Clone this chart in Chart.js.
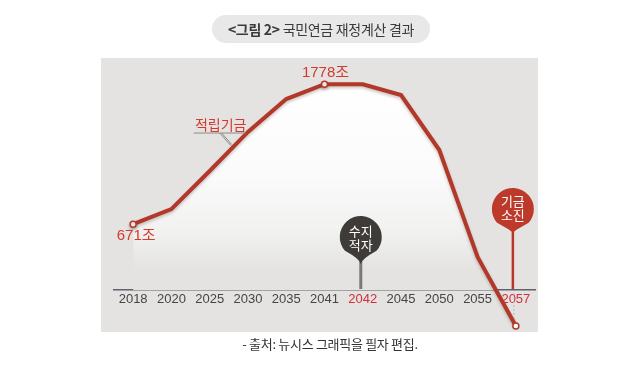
<!DOCTYPE html>
<html><head><meta charset="utf-8">
<script src="https://cdn.jsdelivr.net/npm/chart.js@4/dist/chart.umd.min.js"></script>
<style>
html,body{margin:0;padding:0;background:#fff;}
#wrap{position:relative;width:640px;height:371px;overflow:hidden;}
#c{position:absolute;left:0;top:0;}
.title{position:absolute;left:212px;top:15px;width:218px;height:28px;border-radius:14px;background:#e8e8e8;
  font-family:'Noto Sans CJK KR',sans-serif;font-size:14px;color:#3a3a3a;text-align:center;line-height:28px;letter-spacing:-0.3px;}
.title b{font-weight:700;}
.footer{position:absolute;left:0;width:660px;top:334px;text-align:center;font-family:'Noto Sans CJK KR',sans-serif;font-size:13px;color:#333;letter-spacing:-0.3px;}
</style></head>
<body>
<div id="wrap">
<canvas id="c" width="640" height="371"></canvas>
<div class="title"><b>&lt;그림 2&gt;</b> 국민연금 재정계산 결과</div>
<div class="footer">- 출처: 뉴시스 그래픽을 필자 편집.</div>
</div>
<script>
const years = ['2018','2020','2025','2030','2035','2041','2042','2045','2050','2055','2057'];
const fund = [671, 790, 1091, 1400, 1660, 1778, 1777, 1692, 1257, 411, -134];
const highlightYears = ['2042','2057'];
const markedYears = ['2018','2041','2057'];
const seriesLabel = '적립기금';
const startLabel = '671조';
const peakLabel = '1778조';
const deficitYear = '2042';
const deficitLabel = ['수지','적자'];
const depletionYear = '2057';
const depletionLabel = ['기금','소진'];

const RED = '#b2382a';
const TXT_RED = '#d23a2e';
const KFONT = "'Noto Sans CJK KR', sans-serif";
const NFONT = "'Liberation Sans', 'Noto Sans CJK KR', sans-serif";

function pin(ctx, cx, cy, r, tipY, color) {
  const a = 0.85;
  const p1x = cx - r*Math.sin(a), p1y = cy + r*Math.cos(a);
  ctx.beginPath();
  ctx.moveTo(cx, tipY);
  ctx.quadraticCurveTo(cx-1, cy+r+1, p1x, p1y);
  ctx.arc(cx, cy, r, Math.PI/2 + a, Math.PI/2 - a + 2*Math.PI, false);
  ctx.quadraticCurveTo(cx+1, cy+r+1, cx, tipY);
  ctx.closePath();
  ctx.fillStyle = color;
  ctx.fill();
}

const bgPlugin = {
  id: 'bg',
  beforeDraw(chart) {
    const ctx = chart.ctx;
    ctx.save();
    ctx.fillStyle = '#e4e3e1';
    ctx.fillRect(101, 58, 437, 274);
    ctx.restore();
  },
  beforeDatasetsDraw(chart) {
    const ctx = chart.ctx, x = chart.scales.x, y = chart.scales.y;
    ctx.save();
    ctx.strokeStyle = '#b9b9b9';
    ctx.lineWidth = 1;
    ctx.setLineDash([2,2]);
    const i0 = years.indexOf('2018'), i1 = years.indexOf('2041'), i2 = years.indexOf('2057');
    let px = x.getPixelForValue(i0) + 2;
    ctx.beginPath(); ctx.moveTo(px, y.getPixelForValue(fund[i0]) + 4); ctx.lineTo(px, 265); ctx.stroke();
    px = x.getPixelForValue(i1);
    ctx.beginPath(); ctx.moveTo(px, y.getPixelForValue(fund[i1]) + 4); ctx.lineTo(px, 266); ctx.stroke();
    px = x.getPixelForValue(i2) - 2;
    ctx.beginPath(); ctx.moveTo(px, 293); ctx.lineTo(px, y.getPixelForValue(fund[i2]) - 3); ctx.stroke();
    ctx.restore();
  },
  beforeDatasetDraw(chart) {
    const ctx = chart.ctx;
    ctx.save();
    ctx.shadowColor = 'rgba(60,30,20,0.25)';
    ctx.shadowBlur = 3;
    ctx.shadowOffsetY = 2;
  },
  afterDatasetDraw(chart) {
    chart.ctx.restore();
  },
  afterDatasetsDraw(chart) {
    const ctx = chart.ctx, x = chart.scales.x, y = chart.scales.y;
    ctx.save();
    // end-point marker below the axis (outside chart area)
    const meta = chart.getDatasetMeta(0);
    const last = meta.data[years.indexOf(depletionYear)];
    ctx.beginPath();
    ctx.arc(last.x, last.y, 3, 0, Math.PI*2);
    ctx.fillStyle = '#fff'; ctx.fill();
    ctx.lineWidth = 1.5; ctx.strokeStyle = RED; ctx.stroke();
    // deficit pin
    const dx = x.getPixelForValue(years.indexOf(deficitYear)) - 2;
    ctx.strokeStyle = '#7b7876'; ctx.lineWidth = 3;
    ctx.beginPath(); ctx.moveTo(dx, 260); ctx.lineTo(dx, 289); ctx.stroke();
    pin(ctx, dx, 237, 21, 264, '#3f3b39');
    ctx.fillStyle = '#fff';
    ctx.font = '13px ' + KFONT;
    ctx.textAlign = 'center'; ctx.textBaseline = 'middle';
    ctx.fillText(deficitLabel[0], dx, 231);
    ctx.fillText(deficitLabel[1], dx, 245);
    // depletion pin
    const ex = x.getPixelForValue(years.indexOf(depletionYear)) - 3;
    ctx.strokeStyle = '#b8372a'; ctx.lineWidth = 2.5;
    ctx.beginPath(); ctx.moveTo(ex, 228); ctx.lineTo(ex, 289); ctx.stroke();
    pin(ctx, ex, 209, 21, 233, '#bd3a2b');
    ctx.fillStyle = '#fff';
    ctx.fillText(depletionLabel[0], ex, 201);
    ctx.fillText(depletionLabel[1], ex, 215);
    // value labels
    ctx.fillStyle = TXT_RED;
    ctx.font = '15px ' + NFONT;
    const i0 = years.indexOf('2018'), i1 = years.indexOf('2041');
    ctx.fillText(startLabel, x.getPixelForValue(i0) + 3, y.getPixelForValue(fund[i0]) + 12);
    ctx.fillText(peakLabel, x.getPixelForValue(i1) + 1, y.getPixelForValue(fund[i1]) - 11);
    // series label with leader
    const a = x.getPixelForValue(2), b = x.getPixelForValue(3);
    const lx = a + (b - a) * 0.55;
    const ly = y.getPixelForValue(fund[2] + (fund[3] - fund[2]) * 0.55) - 4;
    ctx.font = '14px ' + KFONT;
    ctx.fillText(seriesLabel, lx - 10, ly - 21);
    ctx.strokeStyle = '#8d8a88'; ctx.lineWidth = 1;
    ctx.beginPath();
    ctx.moveTo(lx - 37, ly - 12.5); ctx.lineTo(lx + 15, ly - 12.5);
    ctx.moveTo(lx - 11, ly - 12.5); ctx.lineTo(lx, ly);
    ctx.moveTo(lx - 9, ly - 12.5); ctx.lineTo(lx + 1, ly - 1);
    ctx.stroke();
    ctx.restore();
  }
};

const ctx = document.getElementById('c').getContext('2d');
const grad = ctx.createLinearGradient(0, 80, 0, 270);
grad.addColorStop(0, '#ffffff');
grad.addColorStop(0.5, '#fbfbfb');
grad.addColorStop(0.8, '#f1f1f0');
grad.addColorStop(1, '#e4e3e1');

new Chart(ctx, {
  type: 'line',
  data: {
    labels: years,
    datasets: [{
      label: seriesLabel,
      data: fund,
      borderColor: RED,
      borderWidth: 4,
      tension: 0,
      fill: 'start',
      backgroundColor: grad,
      clip: false,
      pointRadius: years.map(yv => markedYears.includes(yv) ? 3 : 0),
      pointBackgroundColor: '#ffffff',
      pointBorderColor: RED,
      pointBorderWidth: 1.5,
      borderJoinStyle: 'miter'
    }]
  },
  options: {
    responsive: false,
    animation: false,
    events: [],
    layout: { padding: { left: 114, right: 105, top: 58, bottom: 0 } },
    plugins: { legend: { display: false }, tooltip: { enabled: false } },
    scales: {
      x: {
        type: 'category',
        offset: true,
        afterFit(s) { s.height = 81; },
        grid: { display: false, drawTicks: false },
        border: { display: true, color: '#5c636d', width: 1.5 },
        ticks: {
          autoSkip: false, maxRotation: 0, padding: 2,
          font: { family: NFONT, size: 13 },
          color: c => highlightYears.includes(years[c.index]) ? '#d22f3b' : '#454545'
        }
      },
      y: {
        display: false,
        min: 150,
        max: 1985
      }
    }
  },
  plugins: [bgPlugin]
});
</script>
</body></html>
